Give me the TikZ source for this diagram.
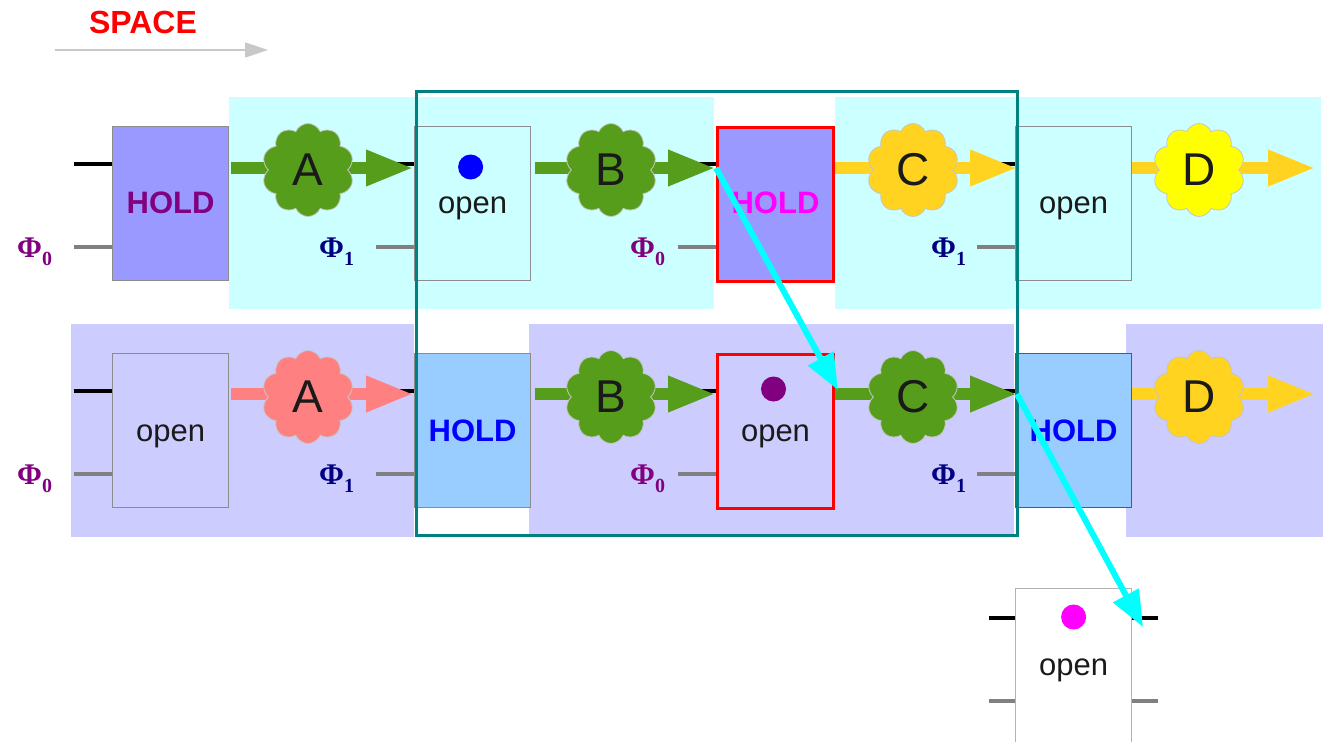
\documentclass[tikz,border=0pt]{standalone}
\usepackage{fontspec}
\setmainfont{Liberation Sans}
\newfontfamily\phifont{Liberation Serif}
\usetikzlibrary{arrows.meta,shapes.symbols,calc}
\definecolor{cyanbg}{HTML}{CCFFFF}
\definecolor{lavbg}{HTML}{CCCCFF}
\definecolor{holdA}{HTML}{9999FF}
\definecolor{holdB}{HTML}{99CCFF}
\definecolor{grn}{HTML}{579D1C}
\definecolor{gold}{HTML}{FFD320}
\definecolor{yel}{HTML}{FFFF00}
\definecolor{salm}{HTML}{FF8080}
\definecolor{tealf}{HTML}{008080}
\definecolor{txt}{HTML}{1A1A1A}
\definecolor{phiA}{HTML}{800080}
\definecolor{phiB}{HTML}{000080}
\definecolor{boxgray}{HTML}{8C8C8C}
\definecolor{wiregray}{HTML}{808080}
\definecolor{spacegray}{HTML}{C8C8C8}
\definecolor{hopc}{HTML}{00FFFF}
\definecolor{magc}{HTML}{FF00FF}
\definecolor{redc}{HTML}{FF0000}
\definecolor{bluec}{HTML}{0000FF}
\begin{document}
\begin{tikzpicture}[x=1pt,y=-1pt,
  latch/.style={draw=boxgray, line width=1.2pt, minimum width=116pt, minimum height=154pt, inner sep=0pt, anchor=north west},
  redlatch/.style={latch, draw=redc, line width=3pt},
  boxtxt/.style={font=\fontsize{31}{36}\selectfont, text=txt, anchor=base, inner sep=0pt},
  holdtxt/.style={font=\fontsize{31}{36}\selectfont\bfseries, anchor=base, inner sep=0pt},
  dotn/.style={circle, minimum size=25pt, inner sep=0pt},
  wireK/.style={black, line width=4pt},
  wireG/.style={wiregray, line width=4pt},
  flow/.style={line width=12pt, -{Triangle[length=48pt,width=33pt]}},
  cloudn/.style={cloud, cloud puffs=10, cloud puff arc=135, aspect=1, minimum width=92pt, minimum height=93pt, inner sep=0pt, draw=gray!45, line width=0.8pt, font=\fontsize{46}{46}\selectfont, text=txt},
  phin/.style={anchor=base west, inner sep=0pt, font=\phifont\bfseries\fontsize{30}{30}\selectfont},
  hop/.style={hopc, line width=6pt, -{Triangle[length=36pt,width=28pt]}}
]
\useasboundingbox (0,0) rectangle (1329,741);
\clip (0,0) rectangle (1329,741);
\fill[white] (0,0) rectangle (1329,741);

% title
\node[text=redc, font=\fontsize{32}{32}\selectfont\bfseries, inner sep=0pt] (space) at (143,22) {SPACE};
\coordinate (sa) at (55,50);
\coordinate (sb) at (268,50);
\draw[spacegray, line width=1.5pt, -{Triangle[length=23pt,width=15pt]}] (sa) -- (sb);

% backgrounds
\fill[cyanbg] (229,97) rectangle (714,309);
\fill[cyanbg] (835,97) rectangle (1321,309);
\fill[lavbg] (71,324) rectangle (414,537);
\fill[lavbg] (529,324) rectangle (1014,537);
\fill[lavbg] (1126,324) rectangle (1323,537);

% top row latches
\node[latch, fill=holdA] (t1) at (112,126) {};
\node[latch, fill=cyanbg] (t2) at (414,126) {};
\node[redlatch, fill=holdA] (t3) at (716,126) {};
\node[latch, fill=cyanbg] (t4) at (1015,126) {};
% bottom row latches
\node[latch, fill=lavbg] (b1) at (112,353) {};
\node[latch, fill=holdB] (b2) at (414,353) {};
\node[redlatch, fill=lavbg] (b3) at (716,353) {};
\node[latch, fill=holdB, draw=black!65] (b4) at (1015,353) {};
% extra latch
\node[latch, fill=white, draw=black!30, minimum height=170pt] (e1) at (1015,588) {};

% texts in latches
\node[holdtxt, text=phiA] (t1l) at ($(t1.north)+(0,87)$) {HOLD};
\node[boxtxt] (t2l) at ($(t2.north)+(0,87)$) {open};
\node[holdtxt, text=magc] (t3l) at ($(t3.north)+(0,87)$) {HOLD};
\node[boxtxt] (t4l) at ($(t4.north)+(0,87)$) {open};
\node[boxtxt] (b1l) at ($(b1.north)+(0,88)$) {open};
\node[holdtxt, text=bluec] (b2l) at ($(b2.north)+(0,88)$) {HOLD};
\node[boxtxt] (b3l) at ($(b3.north)+(0,88)$) {open};
\node[holdtxt, text=bluec] (b4l) at ($(b4.north)+(0,88)$) {HOLD};
\node[boxtxt] (e1l) at ($(e1.north)+(0,87)$) {open};
\node[dotn, fill=bluec] (t2d) at ($(t2.north)+(-2,41)$) {};
\node[dotn, fill=phiA] (b3d) at ($(b3.north)+(-2,36)$) {};
\node[dotn, fill=magc] (e1d) at ($(e1.north)+(0,29)$) {};

% wire stubs
\foreach \b in {t1,t2,t3,t4,b1,b2,b3,b4}{
  \draw[wireK] ($(\b.north west)+(-38,38)$) -- ($(\b.north west)+(0,38)$);
  \draw[wireG] ($(\b.north west)+(-38,121)$) -- ($(\b.north west)+(0,121)$);
}
\draw[wireK] ($(e1.north west)+(-26,30)$) -- ($(e1.north west)+(0,30)$);
\draw[wireG] ($(e1.north west)+(-26,113)$) -- ($(e1.north west)+(0,113)$);
\draw[wireK] ($(e1.north east)+(0,30)$) -- ($(e1.north east)+(26,30)$);
\draw[wireG] ($(e1.north east)+(0,113)$) -- ($(e1.north east)+(26,113)$);

% flow arrows
\coordinate (tout) at (1316,168);
\coordinate (bout) at (1316,394);
\draw[flow, grn] ($(t1.north east)+(2,42)$) -- ($(t2.north west)+(0,42)$);
\draw[flow, grn] ($(t2.north east)+(4,42)$) -- ($(t3.north west)+(0,42)$);
\draw[flow, gold] ($(t3.north east)+(0,42)$) -- ($(t4.north west)+(3,42)$);
\draw[flow, gold] ($(t4.north east)+(0,42)$) -- (tout);
\draw[flow, salm] ($(b1.north east)+(2,41)$) -- ($(b2.north west)+(0,41)$);
\draw[flow, grn] ($(b2.north east)+(4,41)$) -- ($(b3.north west)+(0,41)$);
\draw[flow, grn] ($(b3.north east)+(0,41)$) -- ($(b4.north west)+(3,41)$);
\draw[flow, gold] ($(b4.north east)+(0,41)$) -- (bout);

% clouds
\node[cloudn, fill=grn] (ca) at (308,170) {A};
\node[cloudn, fill=grn] (cb) at (611,170) {B};
\node[cloudn, fill=gold] (cc) at (913,170) {C};
\node[cloudn, fill=yel] (cd) at (1199,170) {D};
\node[cloudn, fill=salm] (da) at (308,397) {A};
\node[cloudn, fill=grn] (db) at (611,397) {B};
\node[cloudn, fill=grn] (dc) at (913,397) {C};
\node[cloudn, fill=gold] (dd) at (1199,397) {D};

% clock labels
\node[phin, text=phiA] (p1) at (17,257) {Φ\raisebox{-8pt}{\fontsize{20}{20}\selectfont 0}};
\node[phin, text=phiB] (p2) at (319,257) {Φ\raisebox{-8pt}{\fontsize{20}{20}\selectfont 1}};
\node[phin, text=phiA] (p3) at (630,257) {Φ\raisebox{-8pt}{\fontsize{20}{20}\selectfont 0}};
\node[phin, text=phiB] (p4) at (931,257) {Φ\raisebox{-8pt}{\fontsize{20}{20}\selectfont 1}};
\node[phin, text=phiA] (q1) at (17,484) {Φ\raisebox{-8pt}{\fontsize{20}{20}\selectfont 0}};
\node[phin, text=phiB] (q2) at (319,484) {Φ\raisebox{-8pt}{\fontsize{20}{20}\selectfont 1}};
\node[phin, text=phiA] (q3) at (630,484) {Φ\raisebox{-8pt}{\fontsize{20}{20}\selectfont 0}};
\node[phin, text=phiB] (q4) at (931,484) {Φ\raisebox{-8pt}{\fontsize{20}{20}\selectfont 1}};

% teal frame
\draw[tealf, line width=3pt] (416,92) rectangle (1017,535);

% cyan hops
\coordinate (k1) at (838,390);
\coordinate (k2) at (1143,627);
\draw[hop] ($(t3.north west)+(0,42)$) -- (k1);
\draw[hop] ($(b4.north west)+(2,41)$) -- (k2);
\end{tikzpicture}
\end{document}
